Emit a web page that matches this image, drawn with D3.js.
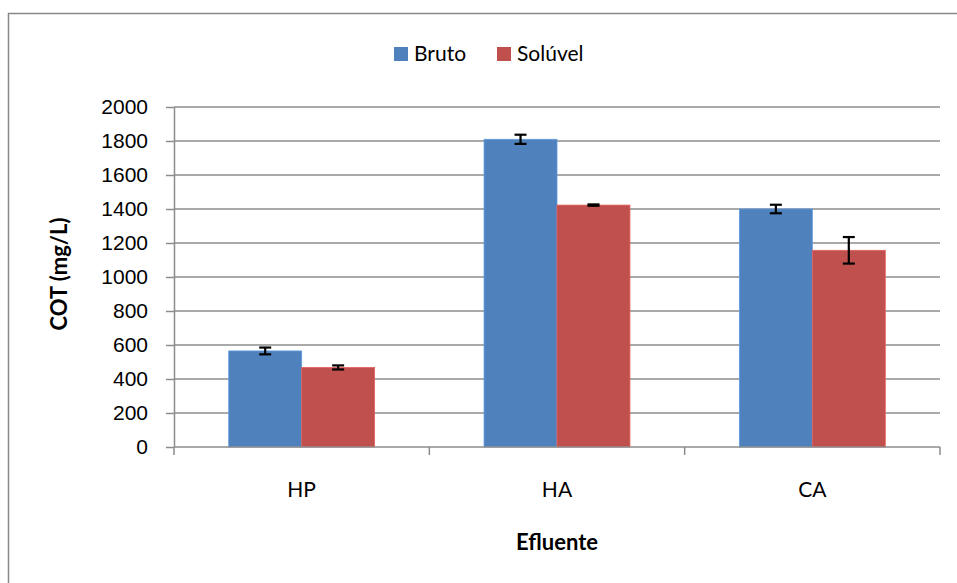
<!DOCTYPE html>
<html>
<head>
<meta charset="utf-8">
<script src="https://d3js.org/d3.v7.min.js"></script>
<style>
  body { margin: 0; background: #fff; }
  svg { display: block; font-family: Lato, "Open Sans", sans-serif; }
  .grid line { stroke: #8c8c8c; stroke-width: 1.5; }
  .axis path, .axis line { stroke: #8c8c8c; stroke-width: 1.5; }
  .axis text { font-size: 21px; fill: #000; }
</style>
</head>
<body>
<script>
// ---- data ----
var categories = ["HP", "HA", "CA"];
var seriesNames = ["Bruto", "Solúvel"];
var bruto      = [565, 1810, 1400];
var brutoErr   = [20, 27, 25];
var soluvel    = [468, 1423, 1157];
var soluvelErr = [12, 4, 78];
var yTicks = [0, 200, 400, 600, 800, 1000, 1200, 1400, 1600, 1800, 2000];
var colors = ["#4F81BD", "#C0504D"];

var W = 957, H = 583;
var plot = { left: 174, right: 940, top: 107, bottom: 447 };

var svg = d3.select("body").append("svg").attr("width", W).attr("height", H);

// outer chart border
svg.append("path")
  .attr("d", "M8.5," + H + "V13.5H" + W)
  .attr("fill", "none").attr("stroke", "#888").attr("stroke-width", 1.5);

var x = d3.scaleBand().domain(categories).range([plot.left, plot.right]);
var inner = d3.scaleBand().domain(seriesNames)
  .range([0, x.bandwidth()]).paddingOuter(0.75).paddingInner(0);
var y = d3.scaleLinear().domain([0, 2000]).range([plot.bottom, plot.top]);

// gridlines
svg.append("g").attr("class", "grid")
  .selectAll("line").data(yTicks.slice(1)).enter().append("line")
  .attr("x1", plot.left).attr("x2", plot.right)
  .attr("y1", function(d){ return y(d); }).attr("y2", function(d){ return y(d); });

// bars
var rows = categories.map(function(c, i){
  return [
    { cat: c, s: "Bruto", v: bruto[i], e: brutoErr[i], col: colors[0] },
    { cat: c, s: "Solúvel", v: soluvel[i], e: soluvelErr[i], col: colors[1] }
  ];
});
var flat = [].concat.apply([], rows);

svg.append("g").selectAll("rect").data(flat).enter().append("rect")
  .attr("x", function(d){ return x(d.cat) + inner(d.s); })
  .attr("width", inner.bandwidth())
  .attr("y", function(d){ return y(d.v); })
  .attr("height", function(d){ return y(0) - y(d.v); })
  .attr("fill", function(d){ return d.col; })
  .attr("stroke", function(d){ return d3.color(d.col).brighter(0.5); })
  .attr("stroke-width", 0.8);

// error bars
var eb = svg.append("g").attr("stroke", "#000").attr("stroke-width", 2.2);
flat.forEach(function(d){
  var cx = x(d.cat) + inner(d.s) + inner.bandwidth() / 2;
  var y1 = y(d.v + d.e), y2 = y(d.v - d.e);
  eb.append("line").attr("x1", cx).attr("x2", cx).attr("y1", y1).attr("y2", y2);
  eb.append("line").attr("x1", cx - 6).attr("x2", cx + 6).attr("y1", y1).attr("y2", y1);
  eb.append("line").attr("x1", cx - 6).attr("x2", cx + 6).attr("y1", y2).attr("y2", y2);
});

// y axis
svg.append("g").attr("class", "axis")
  .attr("transform", "translate(" + plot.left + ",0)")
  .call(d3.axisLeft(y).tickValues(yTicks).tickFormat(d3.format("d"))
    .tickSize(8).tickSizeOuter(0).tickPadding(18));

// x axis (ticks on category boundaries)
var xAxisG = svg.append("g").attr("class", "axis");
xAxisG.append("line").attr("x1", plot.left).attr("x2", plot.right)
  .attr("y1", plot.bottom).attr("y2", plot.bottom);
var bounds = categories.map(function(c){ return x(c); }).concat([plot.right]);
xAxisG.selectAll("line.tk").data(bounds).enter().append("line").attr("class", "tk")
  .attr("x1", function(d){ return d; }).attr("x2", function(d){ return d; })
  .attr("y1", plot.bottom).attr("y2", plot.bottom + 8);
xAxisG.selectAll("text").data(categories).enter().append("text")
  .attr("x", function(d){ return x(d) + x.bandwidth() / 2; })
  .attr("y", 497).attr("text-anchor", "middle").text(function(d){ return d; });

// axis titles
svg.append("text").attr("x", 557).attr("y", 550).attr("text-anchor", "middle")
  .attr("font-weight", "bold").attr("font-size", 22).text("Efluente");
svg.append("text").attr("transform", "translate(67,274) rotate(-90)")
  .attr("text-anchor", "middle").attr("font-weight", "bold").attr("font-size", 22)
  .text("COT (mg/L)");

// legend
var leg = svg.append("g");
var legX = [394, 497];
seriesNames.forEach(function(s, i){
  leg.append("rect").attr("x", legX[i]).attr("y", 47).attr("width", 14).attr("height", 14)
    .attr("fill", colors[i]);
  leg.append("text").attr("x", legX[i] + 20).attr("y", 61).attr("font-size", 21).text(s);
});
</script>
</body>
</html>
